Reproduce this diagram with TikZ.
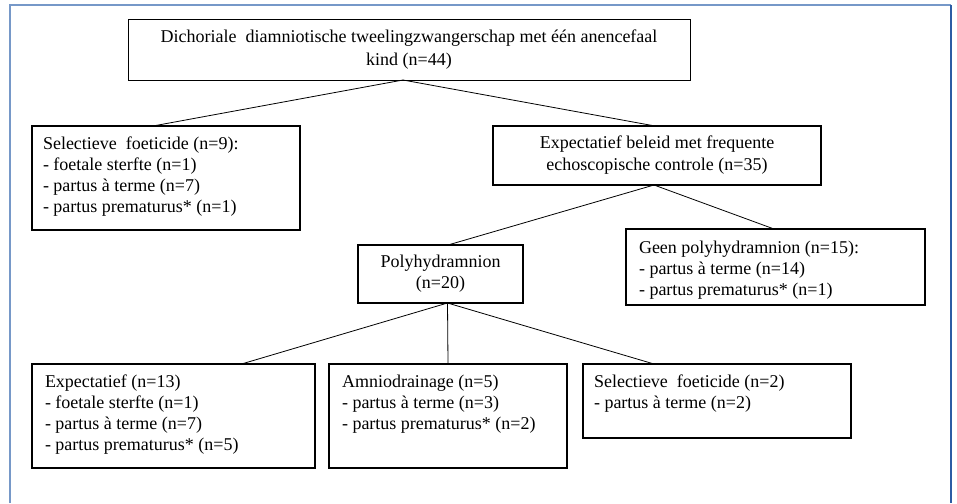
\documentclass[tikz,border=0pt]{standalone}
\usepackage{fontspec}
\setmainfont{Liberation Serif}
\usepackage{tikz}
\definecolor{framelight}{RGB}{118,152,200}
\definecolor{framedark}{RGB}{44,92,164}

\begin{document}
\begin{tikzpicture}[x = 1pt, y = -1pt,
            every node/.style = {font = \fontsize{18}{21}\selectfont, outer sep = 0pt},
            cbox/.style = {draw, line width = 1.6pt, align = center, inner sep = 0pt},
            lbox/.style = {draw, line width = 1.6pt, anchor = north west, inner xsep = 11pt, inner ysep = 11pt},
            link/.style = {draw, line width = 0.8pt}]
            \useasboundingbox (0,0) rectangle (957,503);
            \draw[framelight, line width = 1.2pt] (10,503) -- (10,5) -- (951,5);
            \draw[framedark, line width = 1.2pt] (951,5) -- (951,503);
            \node[cbox, line width = 0.8pt, minimum width = 562pt, minimum height = 61pt,
                font = \fontsize{18}{23}\selectfont] (root) at (409,49.5)
                {Dichoriale\ \ diamniotische tweelingzwangerschap met één anencefaal\\ kind (n=44)};
            \node[lbox] (sel9) at (32,126) {\parbox[t][82pt][t]{246pt}{Selectieve\ \ foeticide (n=9):\\
                - foetale sterfte (n=1)\\ - partus à terme (n=7)\\ - partus prematurus* (n=1)}};
            \node[cbox, minimum width = 328pt, minimum height = 59pt,
                font = \fontsize{18}{22}\selectfont] (beleid) at (657,155.5)
                {Expectatief beleid met frequente\\ echoscopische controle (n=35)};
            \node[lbox, inner xsep = 13pt, inner ysep = 12pt] (geen) at (626,229) {\parbox[t][52pt][t]{273pt}{Geen polyhydramnion (n=15):\\
                - partus à terme (n=14)\\ - partus prematurus* (n=1)}};
            \node[cbox, minimum width = 165pt, minimum height = 58pt] (poly) at (440.5,274)
                {Polyhydramnion\\ (n=20)};
            \node[lbox, inner xsep = 13pt] (exp) at (32,364) {\parbox[t][82pt][t]{257pt}{Expectatief (n=13)\\
                - foetale sterfte (n=1)\\ - partus à terme (n=7)\\ - partus prematurus* (n=5)}};
            \node[lbox, inner xsep = 13pt] (amnio) at (329,364) {\parbox[t][82pt][t]{212pt}{Amniodrainage (n=5)\\
                - partus à terme (n=3)\\ - partus prematurus* (n=2)}};
            \node[lbox] (sel2) at (583,364) {\parbox[t][52pt][t]{246pt}{Selectieve\ \ foeticide (n=2)\\
                - partus à terme (n=2)}};
            \coordinate (rootfork) at ([xshift = -6pt]root.south);
            \coordinate (beleidfork) at ([xshift = -3pt]beleid.south);
            \coordinate (polyfork) at ([xshift = 7pt]poly.south);
            \draw[link] (rootfork) -- ([xshift = -13pt]sel9.north);
            \draw[link] (rootfork) -- ([xshift = -2pt]beleid.north);
            \draw[link] (beleidfork) -- ([xshift = 7.5pt]poly.north);
            \draw[link] (beleidfork) -- ([xshift = -1.5pt]geen.north);
            \draw[link] (polyfork) -- ([xshift = 68pt]exp.north);
            \draw[link] (polyfork) -- (amnio.north);
            \draw[link] (polyfork) -- ([xshift = -63pt]sel2.north);
        \end{tikzpicture}
\end{document}
